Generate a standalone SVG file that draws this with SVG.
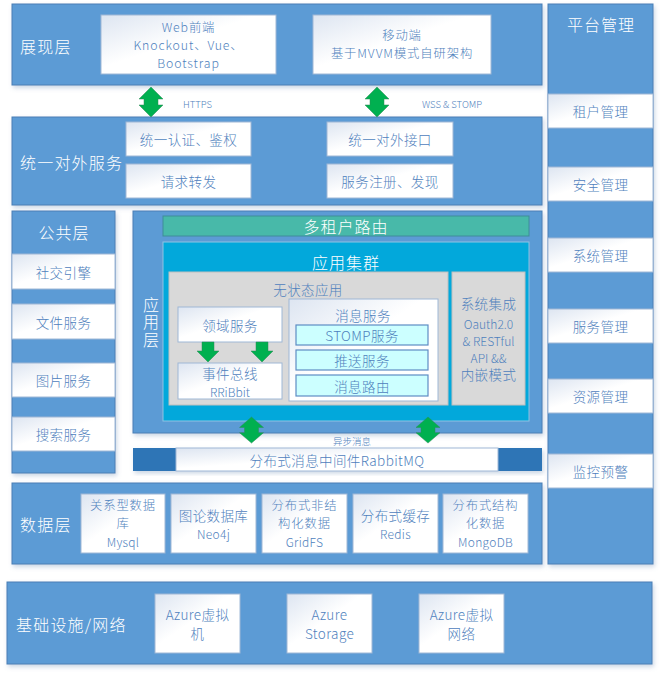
<svg xmlns="http://www.w3.org/2000/svg" width="661" height="675" viewBox="0 0 661 675">
  <defs>
    <linearGradient id="boxFill" x1="0" y1="0" x2="1" y2="1">
      <stop offset="0" stop-color="#DDE5F1"/>
      <stop offset="0.45" stop-color="#FFFFFF"/>
      <stop offset="1" stop-color="#FFFFFF"/>
    </linearGradient>
    <filter id="shadow" x="-10%" y="-10%" width="120%" height="130%">
      <feDropShadow dx="1.5" dy="2.5" stdDeviation="2" flood-color="#6E8FB5" flood-opacity="0.35"/>
    </filter>
    <!-- vertical double-headed block arrow, centred on x=0, spanning y=0..30 -->
    <path id="dblArrow" d="M0,0 L12,12 L7,12 L7,18 L12,18 L0,30 L-12,18 L-7,18 L-7,12 L-12,12 Z"/>
    <!-- downward block arrow, centred on x=0, spanning y=0..20 -->
    <path id="downArrow" d="M-6,0 L6,0 L6,9 L11,9 L0,20 L-11,9 L-6,9 Z"/>
  </defs>
  <style>
    text { font-family: "Microsoft YaHei", "Noto Sans CJK SC", "Noto Sans", sans-serif; font-weight: 300; }
    .panel { fill: #5B9BD5; stroke: #4A7FB5; stroke-width: 1; filter: url(#shadow); }
    .box { fill: url(#boxFill); stroke: #9FB8D6; stroke-width: 1; }
    .title { fill: #FFFFFF; font-size: 16px; letter-spacing: 1.2px; dominant-baseline: central; }
    .ctitle { fill: #FFFFFF; font-size: 16px; letter-spacing: 1px; text-anchor: middle; dominant-baseline: central; }
    .vtitle { fill: #FFFFFF; font-size: 16px; letter-spacing: 1.5px; writing-mode: vertical-rl; text-anchor: middle; }
    .lbl { fill: #4F81BD; font-size: 13.5px; letter-spacing: 0.4px; text-anchor: middle; dominant-baseline: central; }
    .lbl3 { fill: #4F81BD; font-size: 12.3px; letter-spacing: 0.9px; text-anchor: middle; dominant-baseline: central; }
    .sm { fill: #4F81BD; font-size: 12px; text-anchor: middle; dominant-baseline: central; }
    .sm3 { fill: #4F81BD; font-size: 12px; letter-spacing: 0.3px; text-anchor: middle; dominant-baseline: central; }
    .proto { fill: #4F81BD; font-size: 9.5px; dominant-baseline: central; }
    .arrow { fill: #00B050; stroke: #2E8B57; stroke-width: 0.5; }
    .grey { fill: #D9D9D9; stroke: #BFBFBF; stroke-width: 1; }
    .cyan { fill: #CCFFFF; stroke: #5E8DC4; stroke-width: 1.2; }
  </style>

  <!-- presentation layer -->
  <g id="presentation">
    <rect class="panel" x="12" y="4" width="530" height="81"/>
    <text class="title" x="20" y="46">展现层</text>
  </g>
  <g id="web-frontend">
    <rect class="box" x="101" y="15" width="175" height="59"/>
    <text class="lbl3" x="188.5" y="27" letter-spacing="0.3">Web前端</text>
    <text class="lbl3" x="188.5" y="45" letter-spacing="0.3">Knockout、Vue、</text>
    <text class="lbl3" x="188.5" y="63" letter-spacing="0.3">Bootstrap</text>
  </g>
  <g id="mobile">
    <rect class="box" x="313" y="15" width="178" height="59"/>
    <text class="lbl3" x="402" y="35" letter-spacing="1">移动端</text>
    <text class="lbl3" x="402" y="53" letter-spacing="1">基于MVVM模式自研架构</text>
  </g>

  <!-- unified external service layer -->
  <g id="gateway">
    <rect class="panel" x="12" y="117" width="530" height="88"/>
    <text class="title" x="20" y="162">统一对外服务</text>
  </g>
  <g id="auth">
    <rect class="box" x="126" y="122" width="125" height="34"/>
    <text class="lbl" x="188.5" y="139">统一认证、鉴权</text>
  </g>
  <g id="forward">
    <rect class="box" x="126" y="164" width="125" height="34"/>
    <text class="lbl" x="188.5" y="181">请求转发</text>
  </g>
  <g id="api">
    <rect class="box" x="327" y="122" width="126" height="34"/>
    <text class="lbl" x="390" y="139">统一对外接口</text>
  </g>
  <g id="registry">
    <rect class="box" x="327" y="164" width="126" height="34"/>
    <text class="lbl" x="390" y="181">服务注册、发现</text>
  </g>

  <!-- common layer -->
  <g id="common">
    <rect class="panel" x="12" y="211" width="103" height="262"/>
    <text class="ctitle" x="64" y="232">公共层</text>
  </g>
  <g id="social">
    <rect class="box" x="12" y="254" width="103" height="35"/>
    <text class="lbl" x="63.5" y="271.5">社交引擎</text>
  </g>
  <g id="file">
    <rect class="box" x="12" y="304" width="103" height="35"/>
    <text class="lbl" x="63.5" y="321.5">文件服务</text>
  </g>
  <g id="image">
    <rect class="box" x="12" y="363" width="103" height="34"/>
    <text class="lbl" x="63.5" y="380">图片服务</text>
  </g>
  <g id="search">
    <rect class="box" x="12" y="417" width="103" height="34"/>
    <text class="lbl" x="63.5" y="434">搜索服务</text>
  </g>

  <!-- application layer -->
  <g id="app-layer">
    <rect class="panel" x="133" y="211" width="409" height="222"/>
    <text class="vtitle" x="151" y="323">应用层</text>
  </g>
  <g id="tenant-routing">
    <rect x="163" y="216" width="366" height="20" fill="#48B9A9" stroke="#3F8D9A" stroke-width="1"/>
    <text class="ctitle" x="346" y="226">多租户路由</text>
  </g>
  <g id="app-cluster">
    <rect x="163" y="242" width="366" height="179" fill="#02A8DB" stroke="#8FC3E3" stroke-width="1"/>
    <text class="ctitle" x="346" y="262">应用集群</text>
  </g>
  <g id="stateless">
    <rect class="grey" x="169" y="272" width="279" height="133"/>
    <text class="lbl" x="308" y="289">无状态应用</text>
  </g>
  <g id="domain">
    <rect class="box" x="178" y="307" width="104" height="35" stroke="#6F97C8"/>
    <text class="lbl" x="230" y="325">领域服务</text>
  </g>
  <g id="event-bus">
    <rect class="box" x="178" y="363" width="104" height="36" stroke="#6F97C8"/>
    <text class="lbl" x="230" y="373">事件总线</text>
    <text class="sm" x="230" y="391">RRiBbit</text>
  </g>
  <g id="messaging">
    <rect class="box" x="289" y="299" width="149" height="102" stroke="#8FB0D8"/>
    <text class="lbl" x="363" y="315">消息服务</text>
  </g>
  <g id="stomp">
    <rect class="cyan" x="296" y="325" width="132" height="20"/>
    <text class="lbl" x="362" y="335">STOMP服务</text>
  </g>
  <g id="push">
    <rect class="cyan" x="296" y="350" width="132" height="20"/>
    <text class="lbl" x="362" y="360">推送服务</text>
  </g>
  <g id="msg-routing">
    <rect class="cyan" x="296" y="375" width="132" height="21"/>
    <text class="lbl" x="362" y="385.5">消息路由</text>
  </g>
  <g id="integration">
    <rect class="grey" x="452" y="272" width="73" height="133"/>
    <text class="lbl" x="488.5" y="303">系统集成</text>
    <text class="sm" x="488.5" y="323">Oauth2.0</text>
    <text class="sm" x="488.5" y="340">&amp; RESTful</text>
    <text class="sm" x="488.5" y="357">API &amp;&amp;</text>
    <text class="lbl" x="488.5" y="374">内嵌模式</text>
  </g>

  <!-- message middleware bar -->
  <g id="mq">
    <rect x="133" y="448" width="409" height="23" fill="#2E75B6" filter="url(#shadow)"/>
    <rect x="176" y="448" width="322" height="23" fill="url(#boxFill)" stroke="#9FB8D6" stroke-width="1"/>
    <text class="lbl" x="337" y="460">分布式消息中间件RabbitMQ</text>
  </g>

  <!-- data layer -->
  <g id="data">
    <rect class="panel" x="12" y="483" width="530" height="81"/>
    <text class="title" x="20" y="524">数据层</text>
  </g>
  <g id="rdb">
    <rect class="box" x="81" y="494" width="84" height="59"/>
    <text class="lbl3" x="123" y="505">关系型数据</text>
    <text class="lbl3" x="123" y="523">库</text>
    <text class="sm3" x="123" y="541">Mysql</text>
  </g>
  <g id="graphdb">
    <rect class="box" x="171" y="494" width="85" height="59"/>
    <text class="lbl" x="213.5" y="515">图论数据库</text>
    <text class="sm3" x="213.5" y="533">Neo4j</text>
  </g>
  <g id="gridfs">
    <rect class="box" x="262" y="494" width="85" height="59"/>
    <text class="lbl3" x="304.5" y="505">分布式非结</text>
    <text class="lbl3" x="304.5" y="523">构化数据</text>
    <text class="sm3" x="304.5" y="541">GridFS</text>
  </g>
  <g id="redis">
    <rect class="box" x="353" y="494" width="85" height="59"/>
    <text class="lbl" x="395.5" y="515">分布式缓存</text>
    <text class="sm3" x="395.5" y="533">Redis</text>
  </g>
  <g id="mongodb">
    <rect class="box" x="443" y="494" width="85" height="59"/>
    <text class="lbl3" x="485.5" y="505">分布式结构</text>
    <text class="lbl3" x="485.5" y="523">化数据</text>
    <text class="sm3" x="485.5" y="541">MongoDB</text>
  </g>

  <!-- infrastructure layer -->
  <g id="infra">
    <rect class="panel" x="7" y="582" width="645" height="82"/>
    <text class="title" x="16" y="624">基础设施/网络</text>
  </g>
  <g id="azure-vm">
    <rect class="box" x="155" y="594" width="85" height="59"/>
    <text class="lbl" x="197.5" y="614" font-size="13">Azure虚拟</text>
    <text class="lbl" x="197.5" y="633" font-size="13">机</text>
  </g>
  <g id="azure-storage">
    <rect class="box" x="287" y="594" width="85" height="59"/>
    <text class="lbl" x="329.5" y="614" font-size="13">Azure</text>
    <text class="lbl" x="329.5" y="633" font-size="13">Storage</text>
  </g>
  <g id="azure-vnet">
    <rect class="box" x="419" y="594" width="85" height="59"/>
    <text class="lbl" x="461.5" y="614" font-size="13">Azure虚拟</text>
    <text class="lbl" x="461.5" y="633" font-size="13">网络</text>
  </g>

  <!-- platform management column -->
  <g id="platform">
    <rect class="panel" x="548" y="4" width="105" height="560"/>
    <text class="ctitle" x="601" y="24">平台管理</text>
  </g>
  <g id="tenant-mgmt">
    <rect class="box" x="548" y="94" width="105" height="34"/>
    <text class="lbl" x="600.5" y="111">租户管理</text>
  </g>
  <g id="security-mgmt">
    <rect class="box" x="548" y="167" width="105" height="34"/>
    <text class="lbl" x="600.5" y="184">安全管理</text>
  </g>
  <g id="system-mgmt">
    <rect class="box" x="548" y="238" width="105" height="34"/>
    <text class="lbl" x="600.5" y="255">系统管理</text>
  </g>
  <g id="service-mgmt">
    <rect class="box" x="548" y="309" width="105" height="34"/>
    <text class="lbl" x="600.5" y="326">服务管理</text>
  </g>
  <g id="resource-mgmt">
    <rect class="box" x="548" y="379" width="105" height="34"/>
    <text class="lbl" x="600.5" y="396">资源管理</text>
  </g>
  <g id="monitor-mgmt">
    <rect class="box" x="548" y="454" width="105" height="34"/>
    <text class="lbl" x="600.5" y="471">监控预警</text>
  </g>

  <!-- connectors -->
  <g id="connectors">
    <use href="#dblArrow" class="arrow" transform="translate(151,87)"/>
    <text class="proto" x="183" y="104">HTTPS</text>
    <use href="#dblArrow" class="arrow" transform="translate(377,87)"/>
    <text class="proto" x="422" y="104">WSS &amp; STOMP</text>
    <use href="#downArrow" class="arrow" transform="translate(208,342)"/>
    <use href="#downArrow" class="arrow" transform="translate(262,342)"/>
    <use href="#dblArrow" class="arrow" transform="translate(251.5,417) scale(1,0.87)"/>
    <use href="#dblArrow" class="arrow" transform="translate(428,417) scale(1,0.87)"/>
    <text class="proto" x="352" y="441" text-anchor="middle" font-size="10">异步消息</text>
  </g>
</svg>
